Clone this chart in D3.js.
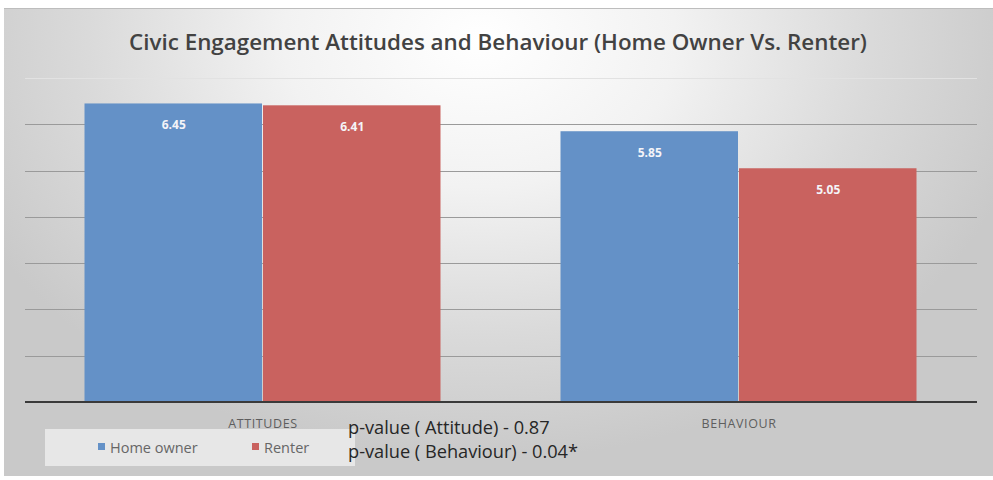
<!DOCTYPE html>
<html>
<head>
<meta charset="utf-8">
<script src="https://cdn.jsdelivr.net/npm/d3@7"></script>
<style>
  html, body { margin: 0; padding: 0; background: #fff; }
  svg { display: block; }
</style>
</head>
<body>
<svg id="chart" width="993" height="480"></svg>
<script>
// Category labels, series and their mean scores
const categories = ["ATTITUDES", "BEHAVIOUR"];
const seriesNames = ["Home owner", "Renter"];
const homeOwner = [6.45, 5.85];
const renter = [6.41, 5.05];
const gridValues = [1, 2, 3, 4, 5, 6, 7];
const pValueNotes = ["p-value ( Attitude) - 0.87", "p-value ( Behaviour) - 0.04*"];
const titleText = "Civic Engagement Attitudes and Behaviour (Home Owner Vs. Renter)";

const colors = { "Home owner": "#6491c7", "Renter": "#c9625f" };

const svg = d3.select("#chart");
const W = 993, H = 480;

// Background panel with a soft radial sheen
const defs = svg.append("defs");
const grad = defs.append("radialGradient")
  .attr("id", "bg").attr("gradientUnits", "userSpaceOnUse")
  .attr("cx", 480).attr("cy", 40).attr("r", 560)
  .attr("gradientTransform", "translate(480,40) scale(1,0.75) translate(-480,-40)");
grad.append("stop").attr("offset", "0%").attr("stop-color", "#ffffff");
grad.append("stop").attr("offset", "35%").attr("stop-color", "#f2f2f2");
grad.append("stop").attr("offset", "70%").attr("stop-color", "#dadada");
grad.append("stop").attr("offset", "100%").attr("stop-color", "#c9c9c9");

svg.append("rect").attr("x", 0).attr("y", 0).attr("width", W).attr("height", H).attr("fill", "#ffffff");
svg.append("rect").attr("x", 4).attr("y", 8).attr("width", W - 4).attr("height", 468)
  .attr("fill", "url(#bg)");
svg.append("line").attr("x1", 4).attr("x2", W).attr("y1", 8.5).attr("y2", 8.5)
  .attr("stroke", "#bdbdbd").attr("stroke-width", 1);

// Scales
const plotLeft = 25, plotRight = 977;
const y = d3.scaleLinear().domain([0, 7]).range([402, 78]);
const x0 = d3.scaleBand().domain(categories).range([plotLeft, plotRight])
  .paddingInner(0.25).paddingOuter(0.125);
const x1 = d3.scaleBand().domain(seriesNames).range([0, x0.bandwidth()]).padding(0);

// Gridlines
svg.append("g").selectAll("line").data(gridValues).join("line")
  .attr("x1", plotLeft).attr("x2", plotRight)
  .attr("y1", d => Math.round(y(d)) + 0.5).attr("y2", d => Math.round(y(d)) + 0.5)
  .attr("stroke", d => d === 7 ? "#e2e2e2" : "#9a9a9a")
  .attr("stroke-width", 1);

// Bars
const rows = categories.map((c, i) => ({
  category: c,
  values: [
    { series: "Home owner", value: homeOwner[i] },
    { series: "Renter", value: renter[i] }
  ]
}));

const groups = svg.append("g").selectAll("g").data(rows).join("g")
  .attr("transform", d => `translate(${x0(d.category)},0)`);

groups.selectAll("rect").data(d => d.values).join("rect")
  .attr("x", d => x1(d.series))
  .attr("y", d => y(d.value))
  .attr("width", x1.bandwidth() - 1)
  .attr("height", d => y(0) - y(d.value))
  .attr("fill", d => colors[d.series]);

groups.selectAll("text").data(d => d.values).join("text")
  .attr("x", d => x1(d.series) + x1.bandwidth() / 2)
  .attr("y", d => y(d.value) + 26)
  .attr("text-anchor", "middle")
  .attr("font-family", "'Open Sans', sans-serif")
  .attr("font-size", 12).attr("font-weight", 700)
  .attr("fill", "#f4f4f8")
  .text(d => d.value.toFixed(2));

// Baseline axis
svg.append("line").attr("x1", plotLeft).attr("x2", plotRight)
  .attr("y1", y(0)).attr("y2", y(0))
  .attr("stroke", "#3a3a3a").attr("stroke-width", 2);

// Category labels
svg.append("g").selectAll("text").data(categories).join("text")
  .attr("x", d => x0(d) + x0.bandwidth() / 2)
  .attr("y", 428)
  .attr("text-anchor", "middle")
  .attr("font-family", "'Open Sans', sans-serif")
  .attr("font-size", 12.5).attr("letter-spacing", 0.6)
  .attr("fill", "#5e5e5e")
  .text(d => d);

// Title
svg.append("text")
  .attr("x", 498).attr("y", 50)
  .attr("text-anchor", "middle")
  .attr("font-family", "'Open Sans', sans-serif")
  .attr("font-size", 22.4).attr("font-weight", 600)
  .attr("fill", "#424242")
  .text(titleText);

// Legend panel
svg.append("rect").attr("x", 45).attr("y", 429).attr("width", 310).attr("height", 37)
  .attr("fill", "#ececec").attr("opacity", 0.85);

const legendX = [98, 252];
const legend = svg.append("g").selectAll("g").data(seriesNames).join("g")
  .attr("transform", (d, i) => `translate(${legendX[i]},443)`);
legend.append("rect").attr("width", 7).attr("height", 7).attr("fill", d => colors[d]);
legend.append("text").attr("x", 12).attr("y", 9.5)
  .attr("font-family", "'Open Sans', sans-serif")
  .attr("font-size", 14.5).attr("fill", "#666")
  .text(d => d);

// Significance notes
svg.append("g").selectAll("text").data(pValueNotes).join("text")
  .attr("x", 348).attr("y", (d, i) => 434 + i * 24)
  .attr("font-family", "'Open Sans', sans-serif")
  .attr("font-size", 18.2).attr("fill", "#262626")
  .text(d => d);
</script>
</body>
</html>
